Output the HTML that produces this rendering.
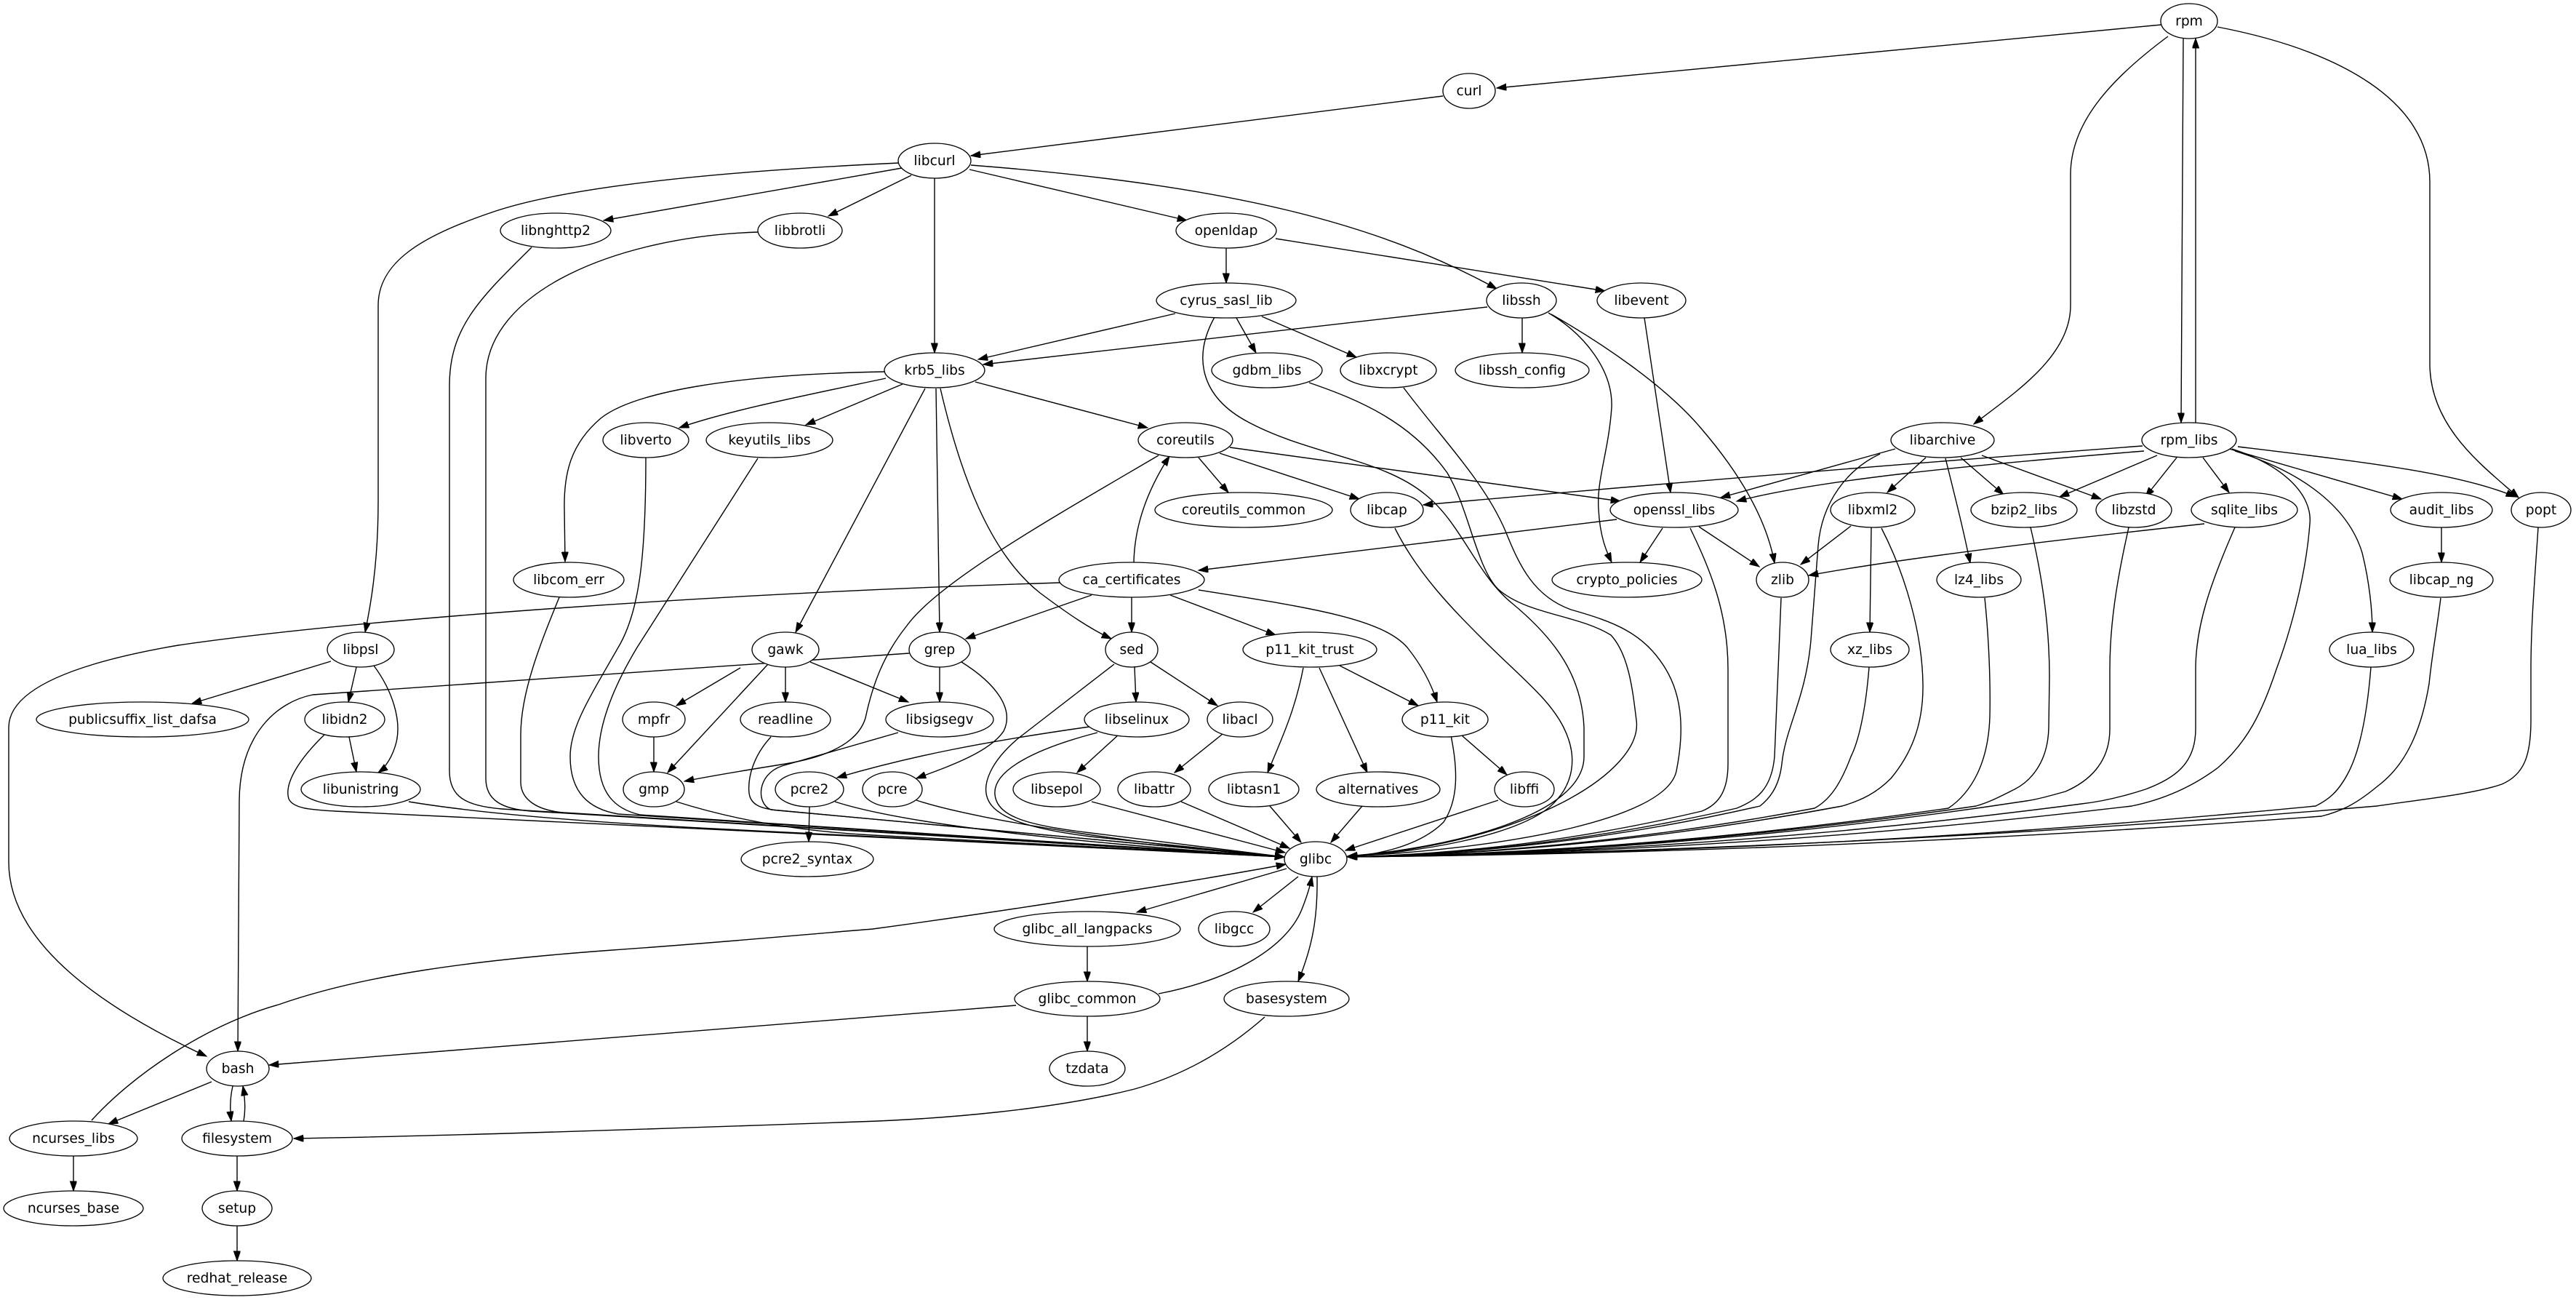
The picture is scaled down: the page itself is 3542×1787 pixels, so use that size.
<!DOCTYPE html>
<html><head><meta charset="utf-8"><style>
html,body{margin:0;padding:0;background:#fff;}
svg{display:block;}
text{font-family:"DejaVu Sans","Liberation Sans",sans-serif;font-size:18.67px;text-anchor:middle;fill:#000;}
</style></head><body>
<svg width="3542" height="1787" viewBox="0 0 3542 1787" xmlns="http://www.w3.org/2000/svg">
<defs>
<marker id="a" markerUnits="userSpaceOnUse" markerWidth="15" markerHeight="11" refX="13.3" refY="4.67" orient="auto">
<path d="M0,0 L13.3,4.67 L0,9.33 Z" fill="#000" stroke="#000" stroke-width="1"/>
</marker>
</defs>
<rect width="3542" height="1787" fill="#fff"/>
<g fill="none" stroke="#000" stroke-width="1.4" marker-end="url(#a)">
<path d="M2972,34 L2058,121"/>
<path d="M2981,50 C2900,110 2847,170 2847,240 L2847,420 C2847,490 2770,540 2714,583"/>
<path d="M3002,53 L2999,581"/>
<path d="M3019,581 L3019,53"/>
<path d="M3049,37 C3220,70 3341,140 3341,250 L3341,500 C3341,590 3420,645 3463,684"/>
<path d="M1984,132 L1335,214"/>
<path d="M1236,224 C1000,235 780,255 673,293 C580,325 520,360 520,420 L520,690 C520,780 508,840 502,869"/>
<path d="M1240,231 L830,303"/>
<path d="M1253,241 L1139,297"/>
<path d="M1333,233 L1632,303"/>
<path d="M1335,227 C1700,255 1900,310 2058,397"/>
<path d="M1285,245 L1285,485"/>
<path d="M731,340 C660,410 618,450 618,530 L618,1060 C618,1095 640,1108 690,1112 L1766,1178"/>
<path d="M1043,319 C850,325 668,400 668,520 L668,1070 C668,1100 690,1112 730,1115 L1766,1178"/>
<path d="M769,821 C745,880 716,950 716,1010 L716,1075 C716,1100 740,1114 775,1117 L1766,1178"/>
<path d="M888,629 C888,760 880,840 850,890 C810,960 784,1000 784,1040 C784,1090 810,1112 850,1119 L1766,1178"/>
<path d="M1042,630 L876,890 C840,950 823,1000 823,1040 C823,1090 845,1112 880,1120 L1766,1178"/>
<path d="M446,1010 C415,1040 390,1075 397,1098 C403,1112 430,1113 460,1115 L1766,1178"/>
<path d="M562,1102 Q700,1125 1000,1140 L1766,1178"/>
<path d="M930,1102 Q1050,1140 1200,1148 L1766,1178"/>
<path d="M1060,1013 C1035,1040 1028,1070 1030,1090 C1032,1108 1050,1112 1070,1114 L1766,1178"/>
<path d="M1235,1007 L1075,1053 C1040,1065 1040,1105 1060,1113 L1766,1178"/>
<path d="M1498,999 C1350,1020 1250,1040 1151,1069"/>
<path d="M1509,1007 C1420,1030 1365,1060 1368,1092 C1371,1125 1420,1135 1500,1145 L1766,1178"/>
<path d="M1532,913 L1400,1015 C1362,1047 1350,1078 1358,1098 C1368,1125 1420,1140 1500,1150 L1766,1178"/>
<path d="M1148,1102 C1250,1135 1500,1160 1766,1178"/>
<path d="M1113,1109 L1112,1157"/>
<path d="M1260,1100 C1350,1130 1600,1165 1766,1178"/>
<path d="M1501,1102 L1767,1172"/>
<path d="M1624,1102 L1773,1166"/>
<path d="M1746,1108 L1789,1158"/>
<path d="M1873,1108 L1830,1158"/>
<path d="M2060,1100 L1850,1169"/>
<path d="M1995,1011 C2005,1060 2005,1100 1985,1130 C1950,1165 1890,1175 1853,1178"/>
<path d="M2010,1011 L2072,1065"/>
<path d="M1842,915 L1950,970"/>
<path d="M1792,918 C1780,980 1760,1020 1743,1062"/>
<path d="M1814,918 L1880,1062"/>
<path d="M1648,811 C1800,835 1900,850 1935,890 C1955,915 1968,940 1976,965"/>
<path d="M1609,818 L1754,873"/>
<path d="M1556,821 L1556,869"/>
<path d="M1501,818 L1328,878"/>
<path d="M1559,773 C1560,720 1580,670 1608,627"/>
<path d="M1457,801 C1000,815 500,850 245,887 C110,910 12,945 12,1000 L12,1185 C12,1300 150,1390 284,1452"/>
<path d="M1250,898 L430,955 C380,965 330,1010 329,1100 L327,1445"/>
<path d="M1292,917 L1292,965"/>
<path d="M1322,910 C1370,940 1395,975 1380,1005 C1360,1035 1300,1055 1260,1070"/>
<path d="M1018,918 L930,970"/>
<path d="M1056,913 L918,1062"/>
<path d="M1080,917 L1080,965"/>
<path d="M1114,910 L1249,965"/>
<path d="M899,1013 L899,1061"/>
<path d="M1593,626 C1450,710 1290,800 1247,860 C1215,900 1200,940 1190,987 C1180,1020 1140,1040 1080,1050 C1030,1058 980,1066 941,1074"/>
<path d="M1216,511 C1000,515 870,540 826,575 C785,610 775,650 776,700 L777,772"/>
<path d="M1218,520 C1100,545 1000,565 934,588"/>
<path d="M1241,528 L1108,584"/>
<path d="M1272,534 L1094,869"/>
<path d="M1287,534 L1292,869"/>
<path d="M1293,534 C1320,650 1360,760 1430,815 C1470,845 1500,865 1528,878"/>
<path d="M1341,525 L1578,588"/>
<path d="M1616,431 L1345,494"/>
<path d="M2045,422 L1352,501"/>
<path d="M1686,341 L1686,389"/>
<path d="M1754,328 L2207,400"/>
<path d="M1700,437 L1727,485"/>
<path d="M1735,435 L1865,491"/>
<path d="M1670,436 C1640,490 1650,545 1716,580 C1800,625 1900,630 1960,680 C2010,720 2030,790 2080,830 C2140,880 2175,930 2178,1000 L2178,1040 C2178,1120 2000,1165 1853,1177"/>
<path d="M1800,526 C1870,550 1940,580 1990,650 C2020,700 2030,780 2060,810 C2100,845 2170,845 2215,873 C2240,900 2245,950 2250,990 C2260,1060 2100,1160 1853,1177"/>
<path d="M1930,533 C1980,600 2040,660 2070,730 C2090,780 2110,820 2160,838 C2220,855 2260,870 2290,919 C2315,960 2315,1010 2305,1060 C2290,1130 2050,1168 1853,1177"/>
<path d="M1918,726 C1950,790 2000,840 2040,880 C2090,930 2130,960 2150,1000 C2170,1040 2165,1080 2130,1110 C2080,1150 1950,1172 1853,1177"/>
<path d="M2093,437 L2093,485"/>
<path d="M2129,430 C2180,460 2218,510 2216,560 C2212,620 2195,660 2198,700 C2200,740 2210,760 2216,773"/>
<path d="M2133,432 C2200,470 2290,530 2340,590 C2400,660 2430,720 2440,774"/>
<path d="M2261,437 L2297,677"/>
<path d="M1648,629 L1689,677"/>
<path d="M1677,623 L1869,686"/>
<path d="M1691,615 L2228,689"/>
<path d="M2946,613 Q2450,650 1957,694"/>
<path d="M2948,620 C2700,640 2500,660 2388,689"/>
<path d="M2606,617 L2366,684"/>
<path d="M2648,629 L2595,677"/>
<path d="M2675,630 C2690,690 2700,730 2709,774"/>
<path d="M2696,629 L2755,680"/>
<path d="M2725,626 L2889,686"/>
<path d="M2324,726 C2350,780 2376,840 2376,920 L2376,1050 C2376,1085 2365,1105 2340,1115 Q2100,1172 1853,1178"/>
<path d="M2449,822 L2445,920 L2440,1040 C2436,1085 2415,1100 2388,1111 Q2120,1172 1853,1178"/>
<path d="M2585,624 C2540,645 2505,690 2500,750 L2490,880 C2483,960 2455,1000 2450,1050 C2446,1085 2430,1100 2420,1108 Q2140,1172 1853,1178"/>
<path d="M2570,917 C2565,980 2555,1020 2545,1040 C2530,1080 2515,1100 2495,1111 Q2170,1172 1853,1178"/>
<path d="M2587,726 C2620,790 2643,870 2644,940 C2645,1000 2625,1040 2600,1070 C2580,1090 2560,1100 2533,1108 Q2190,1172 1853,1178"/>
<path d="M2729,822 C2735,880 2737,940 2736,985 C2734,1050 2710,1090 2679,1111 Q2260,1172 1853,1178"/>
<path d="M2792,725 C2810,800 2818,870 2818,930 L2817,1000 C2816,1050 2790,1075 2770,1085 C2750,1095 2735,1103 2717,1108 Q2280,1172 1853,1178"/>
<path d="M2927,725 C2910,800 2901,860 2901,920 L2901,1002 C2901,1050 2870,1075 2840,1088 C2815,1095 2800,1099 2786,1101 Q2320,1172 1853,1178"/>
<path d="M3073,725 C3040,800 3019,860 3019,920 L3019,1002 C3019,1050 2990,1070 2950,1085 C2910,1098 2880,1103 2862,1105 Q2350,1172 1853,1178"/>
<path d="M3069,617 C3140,640 3180,680 3176,720 C3170,800 3145,880 3130,920 C3110,980 3090,1020 3050,1055 C3010,1085 2970,1100 2931,1108 Q2390,1172 1853,1178"/>
<path d="M3260,917 C3255,980 3245,1030 3230,1060 C3215,1090 3200,1100 3184,1108 Q2520,1172 1853,1178"/>
<path d="M3356,822 C3350,870 3344,900 3340,940 C3330,1000 3310,1050 3270,1080 C3240,1105 3220,1115 3192,1122 Q2520,1172 1853,1178"/>
<path d="M3490,725 C3485,800 3480,860 3480,920 L3480,990 C3480,1040 3470,1065 3440,1078 C3400,1092 3320,1100 3268,1108 Q2560,1168 1853,1178"/>
<path d="M2545,723 L2476,776"/>
<path d="M2573,725 L2571,869"/>
<path d="M3031,720 C2800,745 2600,770 2487,791"/>
<path d="M3357,725 L3357,773"/>
<path d="M2966,626 L2832,683"/>
<path d="M2993,629 L2950,683"/>
<path d="M3029,629 L3065,677"/>
<path d="M3065,617 L3303,686"/>
<path d="M3077,614 C3250,635 3380,650 3459,683"/>
<path d="M3073,620 C3170,650 3230,700 3248,760 C3258,800 3262,840 3262,869"/>
<path d="M2223,714 L1648,784"/>
<path d="M2286,726 L2255,773"/>
<path d="M2336,724 L2419,779"/>
<path d="M1769,1194 L1563,1254"/>
<path d="M1785,1205 L1723,1254"/>
<path d="M1811,1205 C1812,1260 1805,1300 1785,1349"/>
<path d="M1593,1366 C1700,1345 1770,1300 1790,1250 C1798,1230 1802,1215 1804,1205"/>
<path d="M1495,1301 L1495,1349"/>
<path d="M1495,1397 L1495,1445"/>
<path d="M1397,1382 L370,1464"/>
<path d="M1739,1398 C1680,1450 1620,1480 1560,1497 C1450,1525 1300,1538 1180,1542 C900,1552 600,1562 404,1565"/>
<path d="M291,1487 L149,1545"/>
<path d="M320,1493 C316,1510 316,1525 318,1541"/>
<path d="M335,1541 C338,1525 337,1510 334,1493"/>
<path d="M126,1540 C180,1480 280,1410 383,1381 C500,1340 650,1320 842,1306 C1000,1295 1100,1285 1200,1277 C1400,1250 1650,1210 1768,1188"/>
<path d="M101,1589 L101,1637"/>
<path d="M326,1589 L326,1637"/>
<path d="M326,1685 L326,1733"/>
<path d="M455,909 L264,967"/>
<path d="M490,917 L479,965"/>
<path d="M514,915 C540,950 552,990 545,1020 C540,1040 530,1055 520,1062"/>
<path d="M480,1013 L490,1061"/>
<path d="M1560,917 L1562,965"/>
<path d="M1582,910 L1674,970"/>
<path d="M1538,1010 L1481,1062"/>
<path d="M1681,1009 L1615,1062"/>
</g>
<g fill="#fff" stroke="#000" stroke-width="1.33">
<ellipse cx="3010" cy="29" rx="39" ry="24"/>
<ellipse cx="2020" cy="125" rx="36" ry="24"/>
<ellipse cx="1285" cy="221" rx="50" ry="24"/>
<ellipse cx="764" cy="317" rx="76" ry="24"/>
<ellipse cx="1100" cy="317" rx="58" ry="24"/>
<ellipse cx="1686" cy="317" rx="69" ry="24"/>
<ellipse cx="1686" cy="413" rx="96" ry="24"/>
<ellipse cx="2092" cy="413" rx="48" ry="24"/>
<ellipse cx="2257" cy="413" rx="61" ry="24"/>
<ellipse cx="1285" cy="509" rx="69" ry="24"/>
<ellipse cx="1742" cy="509" rx="76" ry="24"/>
<ellipse cx="1909" cy="509" rx="66" ry="24"/>
<ellipse cx="2093" cy="509" rx="92" ry="24"/>
<ellipse cx="888" cy="605" rx="59" ry="24"/>
<ellipse cx="1058" cy="605" rx="87" ry="24"/>
<ellipse cx="1630" cy="605" rx="65" ry="24"/>
<ellipse cx="2671" cy="605" rx="71" ry="24"/>
<ellipse cx="3010" cy="605" rx="65" ry="24"/>
<ellipse cx="1710" cy="701" rx="122" ry="24"/>
<ellipse cx="1907" cy="701" rx="50" ry="24"/>
<ellipse cx="2302" cy="701" rx="88" ry="24"/>
<ellipse cx="2575" cy="701" rx="58" ry="24"/>
<ellipse cx="2783" cy="701" rx="73" ry="24"/>
<ellipse cx="2934" cy="701" rx="52" ry="24"/>
<ellipse cx="3086" cy="701" rx="73" ry="24"/>
<ellipse cx="3357" cy="701" rx="70" ry="24"/>
<ellipse cx="3494" cy="701" rx="41" ry="24"/>
<ellipse cx="782" cy="797" rx="76" ry="24"/>
<ellipse cx="1556" cy="797" rx="100" ry="24"/>
<ellipse cx="2237" cy="797" rx="103" ry="24"/>
<ellipse cx="2451" cy="797" rx="36" ry="24"/>
<ellipse cx="2721" cy="797" rx="58" ry="24"/>
<ellipse cx="3357" cy="797" rx="71" ry="24"/>
<ellipse cx="496" cy="893" rx="46" ry="24"/>
<ellipse cx="1080" cy="893" rx="46" ry="24"/>
<ellipse cx="1292" cy="893" rx="42" ry="24"/>
<ellipse cx="1556" cy="893" rx="36" ry="24"/>
<ellipse cx="1801" cy="893" rx="92" ry="24"/>
<ellipse cx="2571" cy="893" rx="54" ry="24"/>
<ellipse cx="3261" cy="893" rx="58" ry="24"/>
<ellipse cx="196" cy="989" rx="146" ry="24"/>
<ellipse cx="474" cy="989" rx="55" ry="24"/>
<ellipse cx="899" cy="989" rx="43" ry="24"/>
<ellipse cx="1080" cy="989" rx="62" ry="24"/>
<ellipse cx="1292" cy="989" rx="74" ry="24"/>
<ellipse cx="1563" cy="989" rx="72" ry="24"/>
<ellipse cx="1705" cy="989" rx="45" ry="24"/>
<ellipse cx="1987" cy="989" rx="59" ry="24"/>
<ellipse cx="496" cy="1085" rx="82" ry="24"/>
<ellipse cx="899" cy="1085" rx="42" ry="24"/>
<ellipse cx="1113" cy="1085" rx="47" ry="24"/>
<ellipse cx="1227" cy="1085" rx="41" ry="24"/>
<ellipse cx="1453" cy="1085" rx="60" ry="24"/>
<ellipse cx="1587" cy="1085" rx="50" ry="24"/>
<ellipse cx="1724" cy="1085" rx="62" ry="24"/>
<ellipse cx="1895" cy="1085" rx="85" ry="24"/>
<ellipse cx="2096" cy="1085" rx="41" ry="24"/>
<ellipse cx="1809" cy="1181" rx="43" ry="24"/>
<ellipse cx="1110" cy="1181" rx="91" ry="24"/>
<ellipse cx="1495" cy="1277" rx="128" ry="24"/>
<ellipse cx="1697" cy="1277" rx="49" ry="24"/>
<ellipse cx="1495" cy="1373" rx="100" ry="24"/>
<ellipse cx="1769" cy="1373" rx="86" ry="24"/>
<ellipse cx="327" cy="1469" rx="43" ry="24"/>
<ellipse cx="1495" cy="1469" rx="52" ry="24"/>
<ellipse cx="101" cy="1565" rx="88" ry="24"/>
<ellipse cx="326" cy="1565" rx="76" ry="24"/>
<ellipse cx="101" cy="1661" rx="96" ry="24"/>
<ellipse cx="326" cy="1661" rx="48" ry="24"/>
<ellipse cx="326" cy="1757" rx="102" ry="24"/>
</g>
<g>
<text x="3010" y="35">rpm</text>
<text x="2020" y="131">curl</text>
<text x="1285" y="227">libcurl</text>
<text x="764" y="323">libnghttp2</text>
<text x="1100" y="323">libbrotli</text>
<text x="1686" y="323">openldap</text>
<text x="1686" y="419">cyrus_sasl_lib</text>
<text x="2092" y="419">libssh</text>
<text x="2257" y="419">libevent</text>
<text x="1285" y="515">krb5_libs</text>
<text x="1742" y="515">gdbm_libs</text>
<text x="1909" y="515">libxcrypt</text>
<text x="2093" y="515">libssh_config</text>
<text x="888" y="611">libverto</text>
<text x="1058" y="611">keyutils_libs</text>
<text x="1630" y="611">coreutils</text>
<text x="2671" y="611">libarchive</text>
<text x="3010" y="611">rpm_libs</text>
<text x="1710" y="707">coreutils_common</text>
<text x="1907" y="707">libcap</text>
<text x="2302" y="707">openssl_libs</text>
<text x="2575" y="707">libxml2</text>
<text x="2783" y="707">bzip2_libs</text>
<text x="2934" y="707">libzstd</text>
<text x="3086" y="707">sqlite_libs</text>
<text x="3357" y="707">audit_libs</text>
<text x="3494" y="707">popt</text>
<text x="782" y="803">libcom_err</text>
<text x="1556" y="803">ca_certificates</text>
<text x="2237" y="803">crypto_policies</text>
<text x="2451" y="803">zlib</text>
<text x="2721" y="803">lz4_libs</text>
<text x="3357" y="803">libcap_ng</text>
<text x="496" y="899">libpsl</text>
<text x="1080" y="899">gawk</text>
<text x="1292" y="899">grep</text>
<text x="1556" y="899">sed</text>
<text x="1801" y="899">p11_kit_trust</text>
<text x="2571" y="899">xz_libs</text>
<text x="3261" y="899">lua_libs</text>
<text x="196" y="995">publicsuffix_list_dafsa</text>
<text x="474" y="995">libidn2</text>
<text x="899" y="995">mpfr</text>
<text x="1080" y="995">readline</text>
<text x="1292" y="995">libsigsegv</text>
<text x="1563" y="995">libselinux</text>
<text x="1705" y="995">libacl</text>
<text x="1987" y="995">p11_kit</text>
<text x="496" y="1091">libunistring</text>
<text x="899" y="1091">gmp</text>
<text x="1113" y="1091">pcre2</text>
<text x="1227" y="1091">pcre</text>
<text x="1453" y="1091">libsepol</text>
<text x="1587" y="1091">libattr</text>
<text x="1724" y="1091">libtasn1</text>
<text x="1895" y="1091">alternatives</text>
<text x="2096" y="1091">libffi</text>
<text x="1809" y="1187">glibc</text>
<text x="1110" y="1187">pcre2_syntax</text>
<text x="1495" y="1283">glibc_all_langpacks</text>
<text x="1697" y="1283">libgcc</text>
<text x="1495" y="1379">glibc_common</text>
<text x="1769" y="1379">basesystem</text>
<text x="327" y="1475">bash</text>
<text x="1495" y="1475">tzdata</text>
<text x="101" y="1571">ncurses_libs</text>
<text x="326" y="1571">filesystem</text>
<text x="101" y="1667">ncurses_base</text>
<text x="326" y="1667">setup</text>
<text x="326" y="1763">redhat_release</text>
</g>
</svg>
</body></html>
